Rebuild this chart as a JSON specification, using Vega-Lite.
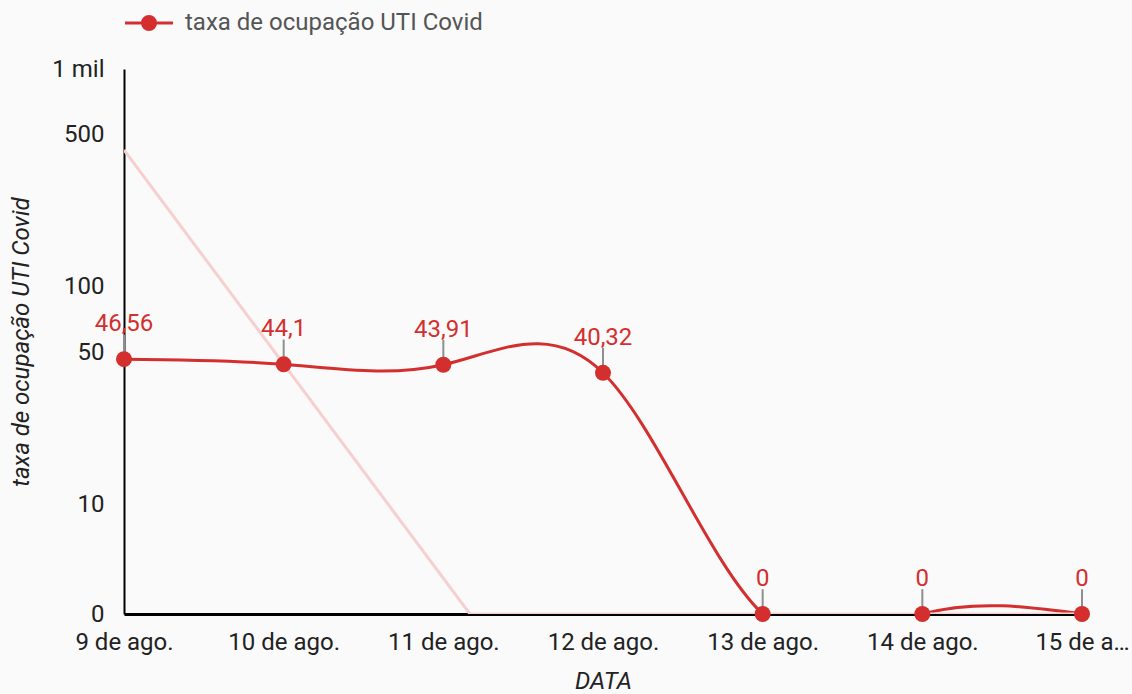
{
  "$schema": "https://vega.github.io/schema/vega-lite/v6.json",
  "width": 958,
  "height": 545,
  "autosize": {"type": "none"},
  "padding": {"left": 124, "top": 69, "right": 50, "bottom": 80},
  "background": "#fafafa",
  "config": {
    "view": {"stroke": null},
    "font": "Roboto",
    "locale": {"number": {"decimal": ",", "thousands": ".", "grouping": [3], "currency": ["R$", ""]}},
    "mark": {"invalid": "show"},
    "axis": {
      "labelFont": "Roboto", "labelFontSize": 24, "labelColor": "#222222",
      "titleFont": "Roboto", "titleFontSize": 24, "titleFontStyle": "italic", "titleFontWeight": "normal", "titleColor": "#222222",
      "grid": false, "ticks": false, "tickSize": 0, "domainColor": "#000000"
    }
  },
  "datasets": {
    "ocupacao": [
      {"data": "2021-08-09", "taxa": 46.56},
      {"data": "2021-08-10", "taxa": 44.1},
      {"data": "2021-08-11", "taxa": 43.91},
      {"data": "2021-08-12", "taxa": 40.32},
      {"data": "2021-08-13", "taxa": 0},
      {"data": "2021-08-14", "taxa": 0},
      {"data": "2021-08-15", "taxa": 0}
    ],
    "tendencia": [
      {"data": "2021-08-09T00:00:00Z", "taxa": 425},
      {"data": "2021-08-11T04:00:00Z", "taxa": 0},
      {"data": "2021-08-15T00:00:00Z", "taxa": 0}
    ]
  },
  "encoding": {
    "x": {
      "field": "data", "type": "temporal",
      "scale": {"type": "utc", "nice": false,
        "domain": [{"year": 2021, "month": 8, "date": 9, "utc": true}, {"year": 2021, "month": 8, "date": 15, "utc": true}]},
      "axis": {
        "title": "DATA", "titlePadding": 15, "labelPadding": 16, "domainWidth": 3,
        "labelFlush": false, "labelOverlap": false, "labelBound": false,
        "values": [
          {"year": 2021, "month": 8, "date": 9, "utc": true},
          {"year": 2021, "month": 8, "date": 10, "utc": true},
          {"year": 2021, "month": 8, "date": 11, "utc": true},
          {"year": 2021, "month": 8, "date": 12, "utc": true},
          {"year": 2021, "month": 8, "date": 13, "utc": true},
          {"year": 2021, "month": 8, "date": 14, "utc": true},
          {"year": 2021, "month": 8, "date": 15, "utc": true}
        ],
        "labelExpr": "utcdate(datum.value) == 15 ? '15 de a…' : utcdate(datum.value) + ' de ago.'"
      }
    },
    "y": {
      "field": "taxa", "type": "quantitative",
      "scale": {"type": "log", "domain": [3.15, 1000], "clamp": true, "nice": false, "zero": false},
      "axis": {
        "title": "taxa de ocupação UTI Covid", "titlePadding": 18, "labelPadding": 20, "domainWidth": 2,
        "values": [3.15, 10, 50, 100, 500, 1000],
        "labelExpr": "datum.value < 5 ? '0' : (datum.value >= 1000 ? '1 mil' : format(datum.value, 'd'))"
      }
    }
  },
  "layer": [
    {
      "data": {"name": "ocupacao"},
      "mark": {"type": "line", "interpolate": "natural", "color": "#d32f2f", "strokeWidth": 3, "clip": true}
    },
    {
      "data": {"name": "tendencia"},
      "mark": {"type": "line", "color": "#f6cfcf", "strokeWidth": 3, "clip": true}
    },
    {
      "data": {"name": "ocupacao"},
      "mark": {"type": "point", "shape": "M0,0L0,-3.1", "size": 256, "filled": false, "stroke": "#8f8f8f", "strokeWidth": 2, "opacity": 1}
    },
    {
      "data": {"name": "ocupacao"},
      "mark": {"type": "point", "shape": "circle", "size": 256, "filled": true, "opacity": 1},
      "encoding": {
        "color": {
          "datum": "taxa de ocupação UTI Covid",
          "scale": {"domain": ["taxa de ocupação UTI Covid"], "range": ["#d32f2f"]},
          "legend": {
            "title": null, "orient": "none", "legendX": 13, "legendY": -58,
            "labelFont": "Roboto", "labelFontSize": 24, "labelColor": "#555555", "labelOffset": 24, "labelLimit": 600,
            "symbolType": "M-2.4,0L2.4,0M0.65,0A0.65,0.65 0 1,1 -0.65,0A0.65,0.65 0 1,1 0.65,0Z",
            "symbolSize": 400, "symbolFillColor": "#d32f2f", "symbolStrokeColor": "#d32f2f", "symbolStrokeWidth": 3, "symbolOpacity": 1,
            "padding": 0, "offset": 0,
            "encode": {"symbols": {"update": {
              "shape": {"value": "M-2.4,0L2.4,0M0.65,0A0.65,0.65 0 1,1 -0.65,0A0.65,0.65 0 1,1 0.65,0Z"},
              "fill": {"value": "#d32f2f"}, "stroke": {"value": "#d32f2f"}, "strokeWidth": {"value": 3},
              "size": {"value": 400}, "opacity": {"value": 1}
            }}}
          }
        }
      }
    },
    {
      "data": {"name": "ocupacao"},
      "mark": {"type": "text", "color": "#d32f2f", "fontSize": 24, "font": "Roboto", "baseline": "alphabetic", "dy": -28},
      "encoding": {"text": {"field": "taxa", "type": "quantitative", "format": ".4~r"}}
    }
  ]
}
